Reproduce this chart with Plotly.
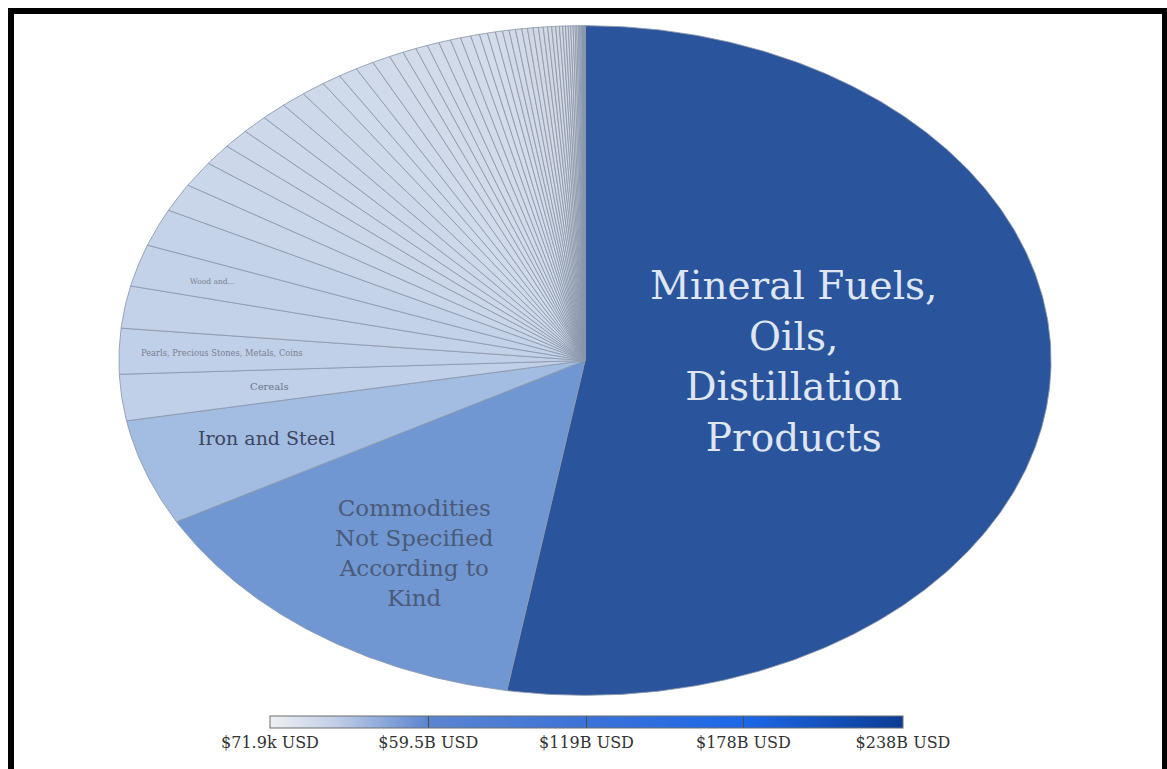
import numpy as np
import plotly.graph_objects as go

# ---------------- data ----------------
categories = [
    "Mineral Fuels, Oils, Distillation Products",
    "Commodities Not Specified According to Kind",
    "Iron and Steel", "Cereals", "Pearls, Precious Stones, Metals, Coins",
    "Fertilizers", "Wood and Articles of Wood", "Nuclear Reactors, Boilers, Machinery",
    "Aluminium", "Copper", "Inorganic Chemicals", "Fish and Crustaceans",
    "Plastics", "Electrical Machinery", "Vehicles", "Animal and Vegetable Fats",
    "Organic Chemicals", "Ores, Slag and Ash", "Nickel", "Paper and Paperboard",
    "Rubber", "Miscellaneous Chemical Products", "Food Residues, Animal Fodder",
    "Oil Seeds", "Aircraft", "Optical and Medical Instruments", "Salt, Sulphur, Stone",
    "Sugars", "Pulp of Wood", "Beverages", "Cocoa Preparations",
    "Cereal and Flour Preparations", "Glass", "Articles of Iron or Steel",
    "Pharmaceutical Products", "Zinc", "Ships and Boats", "Tools and Cutlery",
    "Essential Oils and Perfumes", "Ceramic Products", "Soaps and Waxes",
    "Other Base Metals", "Tobacco", "Meat", "Dairy Products", "Furniture",
    "Arms and Ammunition", "Vegetables", "Textiles", "Footwear", "Fruits and Nuts",
    "Leather", "Apparel", "Dyes and Paints", "Lead", "Toys and Games",
    "Photographic Goods", "Tin", "Clocks and Watches", "Musical Instruments",
    "Works of Art", "Headgear", "Silk", "Feathers", "Vegetable Plaiting Materials",
]
values_busd = [
    238.0, 64.7, 23.1, 10.06, 9.93, 9.18, 9.15, 8.17, 6.16, 5.66, 4.65, 4.27,
    4.15, 4.02, 3.90, 3.77, 3.02, 3.01, 2.89, 2.88, 2.26, 2.14, 1.89, 1.88,
    1.87, 1.63, 1.62, 1.38, 1.26, 1.25, 1.13, 1.01, 1.00, 0.99, 0.88, 0.87,
    0.82, 0.75, 0.69, 0.63, 0.62, 0.57, 0.50, 0.44, 0.43, 0.38, 0.37, 0.31,
    0.25, 0.24, 0.19, 0.18, 0.15, 0.12, 0.10, 0.08, 0.06, 0.05, 0.04, 0.03,
    0.02, 0.01, 0.005, 0.002, 0.0000719,
]
shown_labels = {
    0: "Mineral Fuels,<br>Oils,<br>Distillation<br>Products",
    1: "Commodities<br>Not Specified<br>According to<br>Kind",
    2: "Iron and Steel",
    3: "Cereals",
    4: "Pearls, Precious Stones, Metals, Coins",
    6: "Wood and...",
}
colorbar_tickvals_busd = [0.0000719, 59.5, 119, 178, 238]
colorbar_ticktext = ["$71.9k USD", "$59.5B USD", "$119B USD", "$178B USD", "$238B USD"]

# ---------------- styling ----------------
W, H = 1167, 769


def px_x(p):                      # pixel -> paper fraction
    return p / W


def px_y(p):
    return 1 - p / H


label_style = {
    0: dict(r=0.39, size=39, color="#dfe6f2", dx=28, dy=10),
    1: dict(r=0.66, size=23, color="#4a5a78", dx=8, dy=-12),
    2: dict(r=0.72, size=19, color="#3b4760", dx=-2, dy=3),
    3: dict(r=0.70, size=10, color="#6b7586", dx=9, dy=0),
    4: dict(r=0.78, size=8.3, color="#77808f", dx=0, dy=0),
    6: dict(r=0.83, size=7.5, color="#77808f", dx=-2, dy=0),
}
slice_scale = [(0.0, "#cfd2d8"), (0.005, "#d3dcea"), (0.04, "#c2d1e9"),
               (0.097, "#a3bce2"), (0.272, "#7097d1"), (1.0, "#2a559c")]
bar_scale = [[0.0, "#eef0f3"], [0.1, "#c3cfe6"], [0.25, "#5b85d0"],
             [0.5, "#3c72d8"], [0.75, "#1c68e8"], [1.0, "#0c3c94"]]


def hex_rgb(h):
    h = h.lstrip("#")
    return np.array([int(h[i:i + 2], 16) for i in (0, 2, 4)], dtype=float)


def slice_color(frac):
    for (f0, c0), (f1, c1) in zip(slice_scale[:-1], slice_scale[1:]):
        if frac <= f1:
            t = 0 if f1 == f0 else (frac - f0) / (f1 - f0)
            c = hex_rgb(c0) + (hex_rgb(c1) - hex_rgb(c0)) * max(0.0, t)
            return "rgb(%d,%d,%d)" % tuple(np.round(c))
    return slice_scale[-1][1]


vals = np.array(values_busd) * 1e9
total = vals.sum()
vmax = vals.max()
angles = np.concatenate([[0.0], np.cumsum(vals) / total * 2 * np.pi])

fig = go.Figure()
for i, (name, v) in enumerate(zip(categories, vals)):
    a0, a1 = angles[i], angles[i + 1]
    n = max(3, int(np.degrees(a1 - a0) * 2) + 2)
    th = np.linspace(a0, a1, n)
    xs = np.concatenate([[0.0], np.sin(th), [0.0]])
    ys = np.concatenate([[0.0], np.cos(th), [0.0]])
    fig.add_trace(go.Scatter(
        x=xs, y=ys, mode="lines", fill="toself",
        fillcolor=slice_color(v / vmax),
        line=dict(color="rgba(140,152,172,0.85)", width=1),
        name=name, hoveron="fills",
        text="%s: $%.3gB USD" % (name, v / 1e9), hoverinfo="text",
        showlegend=False,
    ))

for i, txt in shown_labels.items():
    st = label_style[i]
    mid = (angles[i] + angles[i + 1]) / 2
    fig.add_annotation(
        x=st["r"] * np.sin(mid), y=st["r"] * np.cos(mid), xref="x", yref="y",
        xshift=st["dx"], yshift=st["dy"],
        text=txt, showarrow=False,
        font=dict(family="DejaVu Serif", size=st["size"], color=st["color"]),
    )

tick_vals = [t * 1e9 for t in colorbar_tickvals_busd]
fig.add_trace(go.Scatter(
    x=[None], y=[None], mode="markers", showlegend=False, hoverinfo="skip",
    marker=dict(
        colorscale=bar_scale, cmin=tick_vals[0] * 0.999, cmax=tick_vals[-1] * 1.000001,
        color=[tick_vals[0]], showscale=True,
        colorbar=dict(
            orientation="h", x=px_x(586.5), xanchor="center",
            y=px_y(716), yanchor="top",
            len=633, lenmode="pixels", thickness=12, thicknessmode="pixels",
            xpad=0, ypad=0, outlinewidth=1, outlinecolor="#6e6e6e",
            tickvals=tick_vals, ticktext=colorbar_ticktext,
            ticks="inside", ticklen=12, tickcolor="#4a4a4a", tickwidth=1,
            tickfont=dict(family="DejaVu Serif", size=16, color="#333333"),
        ),
    ),
))

# black frame (image border)
frame = dict(type="rect", xref="paper", yref="paper", fillcolor="black",
             line=dict(width=0), layer="above")
fig.add_shape(**frame, x0=px_x(8), x1=px_x(14), y0=0, y1=px_y(8))
fig.add_shape(**frame, x0=px_x(8), x1=1, y0=px_y(14), y1=px_y(8))
fig.add_shape(**frame, x0=px_x(1162), x1=1, y0=0, y1=px_y(8))

fig.update_layout(
    width=W, height=H, margin=dict(l=0, r=0, t=0, b=0),
    paper_bgcolor="white", plot_bgcolor="white",
    xaxis=dict(range=[-1.002, 1.002], domain=[px_x(118), px_x(1052)], visible=False,
               fixedrange=True),
    yaxis=dict(range=[-1.002, 1.002], domain=[px_y(696), px_y(25)], visible=False,
               fixedrange=True),
    hovermode="closest",
)

fig.write_html(
    "out.html",
    config={"displayModeBar": False},
    post_script="document.body.style.margin='0';document.body.style.overflow='hidden';",
)
